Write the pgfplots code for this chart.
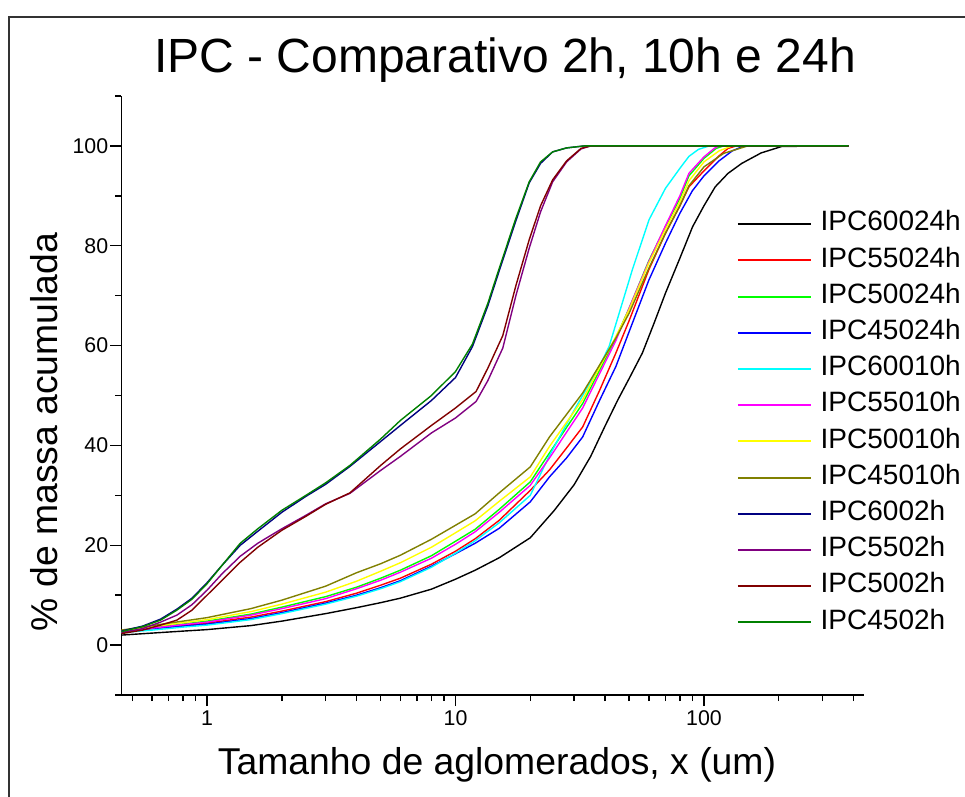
\documentclass[border=0pt]{standalone}
\usepackage{fontspec}
\setmainfont{Liberation Sans}
\usepackage{pgfplots}
\pgfplotsset{compat=1.18}

\definecolor{cOlive}{RGB}{128,128,0}
\definecolor{cNavy}{RGB}{0,0,128}
\definecolor{cPurple}{RGB}{128,0,128}
\definecolor{cWine}{RGB}{128,0,0}
\definecolor{cDkGreen}{RGB}{0,128,0}
\definecolor{cGreen}{RGB}{0,255,0}
\definecolor{cCyan}{RGB}{0,255,255}
\definecolor{cMagenta}{RGB}{255,0,255}
\definecolor{cYellow}{RGB}{255,255,0}

\begin{document}
\begin{tikzpicture}
\useasboundingbox (0,0) rectangle (723.75pt,597.75pt);
% page frame
\draw[line width=1.5pt, black!80] (6.75pt,-5pt) -- (6.75pt,585pt) -- (730pt,585pt);

\begin{axis}[
  at={(91.05pt,76.5pt)}, anchor=south west,
  scale only axis, width=556.8pt, height=449.25pt,
  xmode=log, xmin=0.452, xmax=440, ymin=-10, ymax=110,
  axis x line*=bottom, axis y line*=left,
  axis line style={line width=1.1pt, -},
  tick style={line width=1.1pt, black},
  tick align=outside,
  major tick length=8.25pt, minor tick length=4.5pt,
  xtick={1,10,100}, xticklabels={1,10,100},
  minor xtick={0.5,0.6,0.7,0.8,0.9,2,3,4,5,6,7,8,9,20,30,40,50,60,70,80,90,200,300,400},
  ytick={0,20,40,60,80,100},
  minor ytick={-10,10,30,50,70,90,110},
  tick label style={font=\fontsize{16}{19}\selectfont},
  yticklabel style={inner sep=1.5pt},
  /pgf/number format/assume math mode=true,
  every axis plot/.append style={line width=1.05pt},
  legend cell align=left,
  legend image code/.code={\draw[#1, line width=1.4pt] (0pt,0pt) -- (54.75pt,0pt);},
  legend style={at={(0.829,0.806)}, anchor=north west, draw=none, fill=none,
    font=\fontsize{21}{25}\selectfont, inner sep=0pt, outer sep=0pt,
    row sep=9.15pt, column sep=6.75pt,
    nodes={inner sep=0pt, text height=14pt, text depth=4pt}},
]

\addplot[black] coordinates {(0.452,2.0)(0.6,2.4)(0.8,2.8)(1,3.1)(1.5,3.9)(2,4.8)(3,6.3)(4,7.5)(5,8.5)(6,9.4)(8,11.2)(10,13.2)(12,15.0)(15,17.5)(20,21.5)(25,27.0)(30,32.1)(35,37.8)(40,43.9)(45,49.1)(50,53.4)(56.5,58.5)(63,64.5)(70,70.5)(80,77.5)(90,83.8)(100,88.0)(111,91.8)(125,94.5)(142,96.5)(170,98.6)(206,99.9)(382,100)};
\addlegendentry{IPC60024h}

\addplot[red] coordinates {(0.452,2.7)(0.6,3.3)(0.8,3.9)(1,4.4)(1.5,5.6)(2,6.8)(3,8.7)(4,10.4)(5,12.0)(6,13.4)(8,16.2)(10,18.8)(12,21.3)(15,25.0)(20,31.0)(23.9,35.1)(28,39.5)(32.5,43.7)(38,51.0)(44.2,58.5)(50,65.0)(60,75.2)(70,82.5)(80,88.0)(87,91.8)(100,95.0)(115,98.0)(125,99.5)(135,100)(382,100)};
\addlegendentry{IPC55024h}

\addplot[cGreen] coordinates {(0.452,2.8)(0.6,3.5)(0.8,4.2)(1,4.8)(1.5,6.2)(2,7.6)(3,9.7)(4,11.6)(5,13.4)(6,15.0)(8,17.9)(10,20.8)(12,23.2)(15,27.2)(20,32.7)(23.9,38.5)(32.5,48.4)(44.2,61.5)(50,67.5)(60,77.0)(70,83.8)(80,89.5)(87,94.0)(100,97.5)(112,99.5)(120,100)(382,100)};
\addlegendentry{IPC50024h}

\addplot[blue] coordinates {(0.452,2.8)(0.6,3.3)(0.8,3.8)(1,4.2)(1.5,5.3)(2,6.5)(3,8.4)(4,10.0)(5,11.5)(6,12.9)(8,15.8)(10,18.3)(12,20.4)(15,23.4)(20,28.7)(23.9,33.7)(28,37.5)(32.5,41.7)(38,49.0)(44.2,55.8)(50,62.8)(60,73.1)(70,80.5)(80,86.5)(89.8,91.0)(100,94.0)(115,97.0)(130,99.0)(145,100)(382,100)};
\addlegendentry{IPC45024h}

\addplot[cCyan] coordinates {(0.452,2.5)(0.6,3.0)(0.8,3.6)(1,4.0)(1.5,5.1)(2,6.3)(3,8.2)(4,9.8)(5,11.3)(6,12.7)(8,15.6)(10,18.4)(12,20.9)(15,24.5)(20,30.0)(23.9,38.0)(30,47.0)(37.9,55.8)(41.5,59.8)(51.5,75.2)(60.1,85.2)(70,91.5)(80,95.5)(87,97.9)(95,99.3)(105,100)(382,100)};
\addlegendentry{IPC60010h}

\addplot[cMagenta] coordinates {(0.452,2.7)(0.6,3.4)(0.8,4.1)(1,4.6)(1.5,6.0)(2,7.3)(3,9.3)(4,11.3)(5,13.0)(6,14.6)(8,17.4)(10,20.2)(12,22.7)(15,26.6)(20,32.0)(23.9,37.5)(32.5,47.5)(44.2,61.0)(50,67.5)(60,76.8)(70,84.0)(80,90.0)(87,94.5)(100,97.8)(110,99.5)(115,100)(382,100)};
\addlegendentry{IPC55010h}

\addplot[cYellow] coordinates {(0.452,2.9)(0.6,3.7)(0.8,4.5)(1,5.1)(1.5,6.7)(2,8.2)(3,10.6)(4,12.8)(5,14.8)(6,16.5)(8,19.6)(10,22.5)(12,24.9)(15,28.8)(20,33.7)(23.9,39.8)(32.5,49.2)(44.2,61.8)(50,67.2)(60,76.5)(70,83.3)(80,88.8)(87,93.0)(100,96.8)(115,99.0)(130,100)(382,100)};
\addlegendentry{IPC50010h}

\addplot[cOlive] coordinates {(0.452,3.0)(0.6,3.9)(0.8,4.8)(1,5.5)(1.5,7.3)(2,9.0)(3,11.8)(4,14.5)(5,16.3)(6,18.0)(8,21.2)(10,24.0)(12,26.3)(15,30.5)(20,35.7)(23.9,41.7)(32.5,50.5)(44.2,61.5)(50,66.5)(60,75.5)(70,82.5)(80,88.0)(87,92.0)(100,95.8)(120,98.5)(150,100)(382,100)};
\addlegendentry{IPC45010h}

\addplot[cNavy] coordinates {(0.452,2.8)(0.55,3.8)(0.65,5.2)(0.756,7.2)(0.87,9.4)(1,12.5)(1.15,16.0)(1.36,20.0)(1.6,22.8)(2,26.6)(2.5,29.8)(3,32.2)(3.76,35.8)(5,40.8)(6,44.0)(8,49.0)(10,53.6)(11.7,59.8)(13.5,68.0)(15,75.0)(17.5,85.0)(19.8,92.6)(22,96.5)(24.6,98.8)(28,99.6)(33,100)(382,100)};
\addlegendentry{IPC6002h}

\addplot[cPurple] coordinates {(0.452,2.5)(0.55,3.3)(0.65,4.6)(0.756,6.0)(0.87,8.1)(1,11.0)(1.15,14.3)(1.36,17.8)(1.6,20.4)(2,23.3)(2.5,26.0)(3,28.3)(3.76,30.4)(5,35.0)(6,37.8)(8,42.5)(10,45.5)(12.1,48.8)(13.5,53.0)(15.5,59.5)(17.5,70.0)(19.8,79.5)(22,86.8)(24.6,92.8)(28,96.8)(32,99.4)(35,100)(382,100)};
\addlegendentry{IPC5502h}

\addplot[cWine] coordinates {(0.452,2.3)(0.55,3.0)(0.65,4.0)(0.756,5.0)(0.87,7.0)(1,10.0)(1.15,13.0)(1.36,16.6)(1.6,19.6)(2,23.0)(2.5,25.8)(3,28.2)(3.76,30.5)(5,36.0)(6,39.3)(8,44.0)(10,47.5)(12.1,50.8)(13.5,55.5)(15.5,62.0)(17.5,72.0)(19.8,81.2)(22,88.0)(24.6,93.2)(28,97.0)(32,99.5)(35,100)(382,100)};
\addlegendentry{IPC5002h}

\addplot[cDkGreen] coordinates {(0.452,2.7)(0.55,3.7)(0.65,5.0)(0.756,7.0)(0.87,9.2)(1,12.3)(1.15,16.0)(1.36,20.4)(1.6,23.3)(2,27.0)(2.5,30.0)(3,32.5)(3.76,36.0)(5,41.3)(6,45.0)(8,50.0)(10,54.8)(11.7,60.3)(13.5,68.5)(15,75.5)(17.5,85.5)(19.8,92.8)(22,96.8)(24.6,98.8)(28,99.6)(33,100)(382,100)};
\addlegendentry{IPC4502h}
\end{axis}

\node[font=\fontsize{36}{43}\selectfont, anchor=base] at (378.75pt,543pt) {IPC - Comparativo 2h, 10h e 24h};
\node[font=\fontsize{28}{33}\selectfont, anchor=base] at (372.75pt,16.5pt) {Tamanho de aglomerados, x (um)};
\node[font=\fontsize{28}{33}\selectfont, anchor=base, rotate=90] at (42.75pt,273.75pt) {\% de massa acumulada};
\end{tikzpicture}
\end{document}
